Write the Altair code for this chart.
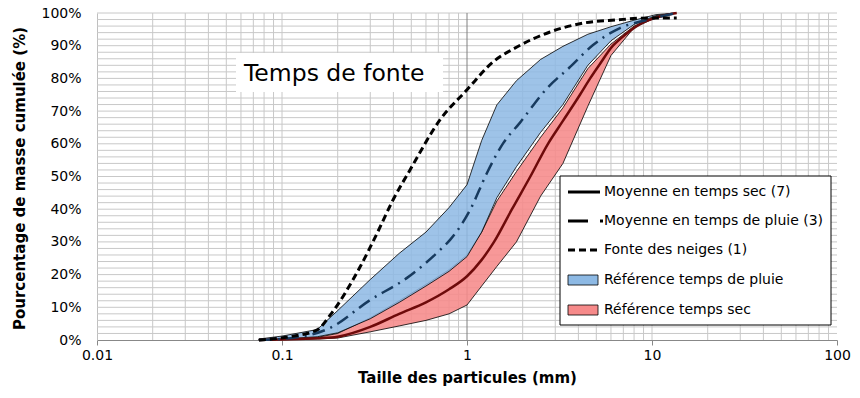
import altair as alt
import pandas as pd

# ---- data ----
band_x = [0.075, 0.1, 0.155, 0.2, 0.3, 0.43, 0.6, 0.8, 1.0, 1.2, 1.45, 1.85, 2.5, 3.3, 4.5, 6.0, 8.0, 10.5, 13.5]
wet_hi = [0.3, 1.2, 3.2, 9.0, 18.5, 26.5, 33.0, 40.5, 47.5, 61.0, 71.9, 79.3, 85.8, 89.8, 93.5, 95.8, 97.8, 99.5, 100]
wet_lo = [0.0, 0.3, 1.0, 2.2, 6.5, 11.5, 16.5, 21.0, 25.5, 33.0, 43.5, 53.0, 63.5, 72.0, 84.0, 91.5, 96.5, 99.2, 100]
dry_hi = [0.0, 0.2, 0.8, 2.0, 6.8, 12.0, 17.0, 21.5, 26.0, 33.0, 42.5, 51.5, 62.0, 71.0, 83.0, 90.5, 96.0, 99.0, 100]
dry_lo = [0.0, 0.1, 0.3, 0.6, 2.5, 4.3, 6.0, 8.0, 10.7, 16.5, 22.5, 30.0, 44.0, 54.0, 71.5, 87.0, 95.5, 98.6, 100]

dry_mean_x = [0.075, 0.1, 0.155, 0.2, 0.3, 0.43, 0.6, 0.8, 1.0, 1.2, 1.4, 1.75, 2.2, 2.74, 3.3, 4.08, 4.63, 5.24, 6.15, 6.71, 8.61, 12.0, 13.6]
dry_mean_y = [0.0, 0.15, 0.5, 1.0, 4.0, 8.0, 11.5, 15.5, 19.5, 24.5, 30.0, 40.0, 50.0, 60.0, 67.0, 75.0, 80.0, 84.5, 90.0, 92.0, 96.6, 99.4, 100]

wet_mean_x = [0.075, 0.12, 0.182, 0.299, 0.474, 0.714, 0.81, 1.04, 1.28, 1.57, 1.93, 2.71, 3.61, 4.8, 6.71, 9.4, 13.6]
wet_mean_y = [0.0, 0.8, 3.7, 12.2, 19.0, 27.5, 30.6, 39.8, 51.0, 60.2, 66.4, 77.0, 83.5, 90.2, 95.4, 97.9, 100]

snow_x = [0.075, 0.11, 0.155, 0.182, 0.264, 0.327, 0.398, 0.492, 0.714, 1.0, 1.38, 1.86, 2.81, 4.24, 6.47, 9.75, 13.6]
snow_y = [0.0, 1.0, 3.1, 7.6, 22.3, 32.7, 42.8, 52.0, 67.3, 76.5, 85.0, 89.6, 94.2, 96.9, 97.9, 98.5, 98.5]

x_ticks = [0.01, 0.1, 1, 10, 100]
y_ticks = [0, 10, 20, 30, 40, 50, 60, 70, 80, 90, 100]
minor_x = [m * d for d in (0.01, 0.1, 1, 10) for m in range(2, 10)] + [0.1, 10]
minor_y = list(range(2, 101, 2))

legend_labels = ["Moyenne en temps sec (7)", "Moyenne en temps de pluie (3)", "Fonte des neiges (1)",
                 "Référence temps de pluie", "Référence temps sec"]
annotation = "Temps de fonte"

FONT = "DejaVu Sans"
W, H = 740, 327

xs = alt.Scale(type="log", domain=[0.01, 100], nice=False)
ys = alt.Scale(domain=[0, 100], nice=False)

x_axis = alt.Axis(values=x_ticks, format="~g", grid=False, ticks=True, tickSize=5,
                  tickColor="#888888", domainColor="#888888", labelFont=FONT, labelFontSize=14,
                  labelColor="#000000", labelPadding=3, titleFont=FONT, titleFontSize=15,
                  titleFontWeight="bold", titleColor="#000000", titlePadding=8, labelFlush=False,
                  labelOverlap=False)
y_axis = alt.Axis(values=y_ticks, labelExpr="datum.value + '%'", grid=False, ticks=False,
                  domainColor="#BFBFBF", labelFont=FONT, labelFontSize=14, labelColor="#000000",
                  labelPadding=16, titleFont=FONT, titleFontSize=15, titleFontWeight="bold",
                  titleColor="#000000", titleX=-78, titleY=165, titleAngle=270,
                  titleBaseline="middle", titleAlign="center", labelOverlap=False, labelFlush=False)
XT = "Taille des particules (mm)"
YT = "Pourcentage de masse cumulée (%)"


def X(field):
    return alt.X(field, scale=xs, axis=x_axis, title=XT)


def Y(field):
    return alt.Y(field, scale=ys, axis=y_axis, title=YT)


band = pd.DataFrame({"x": band_x, "whi": wet_hi, "wlo": wet_lo, "dhi": dry_hi, "dlo": dry_lo})
dry = pd.DataFrame({"x": dry_mean_x, "y": dry_mean_y})
wet = pd.DataFrame({"x": wet_mean_x, "y": wet_mean_y})
snow = pd.DataFrame({"x": snow_x, "y": snow_y})

hgrid = alt.Chart(pd.DataFrame({"y": minor_y})).mark_rule(color="#C8C8C8", strokeWidth=1).encode(y=Y("y:Q"))
vgrid = alt.Chart(pd.DataFrame({"x": minor_x})).mark_rule(color="#C8C8C8", strokeWidth=1).encode(x=X("x:Q"))
vone = alt.Chart(pd.DataFrame({"x": [1]})).mark_rule(color="#808080", strokeWidth=1).encode(x=X("x:Q"))

red_area = alt.Chart(band).mark_area(color="#F68A8A", fillOpacity=0.88, stroke="#000000", strokeWidth=0.8).encode(
    x=X("x:Q"), y=Y("dhi:Q"), y2="dlo:Q")
blue_area = alt.Chart(band).mark_area(color="#8DB9E4", fillOpacity=0.85, stroke="#000000", strokeWidth=0.8).encode(
    x=X("x:Q"), y=Y("whi:Q"), y2="wlo:Q")

dry_line = alt.Chart(dry).mark_line(color="#6E0A0A", strokeWidth=2.5, interpolate="monotone").encode(
    x=X("x:Q"), y=Y("y:Q"))
wet_line = alt.Chart(wet).mark_line(color="#173A5E", strokeWidth=2.5, interpolate="monotone",
                                    strokeDash=[13, 6, 2, 6]).encode(x=X("x:Q"), y=Y("y:Q"))
snow_line = alt.Chart(snow).mark_line(color="#000000", strokeWidth=3, interpolate="monotone",
                                      strokeDash=[7, 4]).encode(x=X("x:Q"), y=Y("y:Q"))

# annotation box
ann_box = alt.Chart(pd.DataFrame({"a": [0]})).mark_rect(color="#FFFFFF").encode(
    x=alt.value(139), x2=alt.value(346), y=alt.value(40), y2=alt.value(79))
ann_text = alt.Chart(pd.DataFrame({"t": [annotation]})).mark_text(
    font=FONT, fontSize=23.5, align="left", baseline="middle", color="#000000").encode(
    x=alt.value(147), y=alt.value(61), text="t:N")

# legend
leg_box = alt.Chart(pd.DataFrame({"a": [0]})).mark_rect(color="#FFFFFF", stroke="#000000", strokeWidth=1).encode(
    x=alt.value(463), x2=alt.value(734), y=alt.value(163), y2=alt.value(312))
ly = [179, 208, 237, 267, 297]
leg_text = alt.Chart(pd.DataFrame({"t": legend_labels, "yy": ly})).mark_text(
    font=FONT, fontSize=14, align="left", baseline="middle", color="#000000").encode(
    x=alt.value(507), y=alt.Y("yy:Q", scale=None), text="t:N")
leg_l1 = alt.Chart(pd.DataFrame({"a": [0]})).mark_rule(color="#000000", strokeWidth=3).encode(
    x=alt.value(471), x2=alt.value(503), y=alt.value(ly[0]))
leg_l2 = alt.Chart(pd.DataFrame({"a": [0]})).mark_rule(color="#000000", strokeWidth=3, strokeDash=[20, 12, 3, 20]).encode(
    x=alt.value(471), x2=alt.value(506), y=alt.value(ly[1]))
leg_l3 = alt.Chart(pd.DataFrame({"a": [0]})).mark_rule(color="#000000", strokeWidth=3, strokeDash=[7, 4]).encode(
    x=alt.value(471), x2=alt.value(503), y=alt.value(ly[2]))
leg_r1 = alt.Chart(pd.DataFrame({"a": [0]})).mark_rect(color="#8DB9E4", stroke="#000000", strokeWidth=0.8).encode(
    x=alt.value(471), x2=alt.value(501), y=alt.value(ly[3] - 5), y2=alt.value(ly[3] + 5))
leg_r2 = alt.Chart(pd.DataFrame({"a": [0]})).mark_rect(color="#F68A8A", stroke="#000000", strokeWidth=0.8).encode(
    x=alt.value(471), x2=alt.value(501), y=alt.value(ly[4] - 5), y2=alt.value(ly[4] + 5))

chart = alt.layer(
    hgrid, vgrid, vone, red_area, blue_area, dry_line, wet_line, snow_line,
    ann_box, ann_text, leg_box, leg_l1, leg_l2, leg_l3, leg_r1, leg_r2, leg_text
).properties(
    width=W, height=H,
    autosize=alt.AutoSizeParams(type="none"),
    padding={"left": 97, "top": 13, "right": 23, "bottom": 58},
    background="#FFFFFF",
).configure_view(stroke=None).configure_axis(labelOverlap=False)

chart.save("out.html", embed_options={"renderer": "svg", "actions": False})
